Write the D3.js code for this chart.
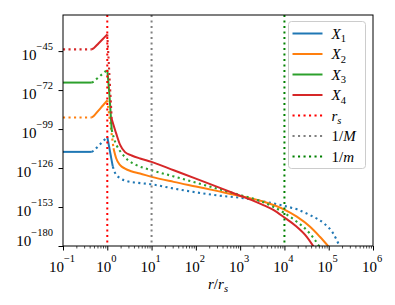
<!DOCTYPE html>
<html>
<head>
<meta charset="utf-8">
<script src="https://cdn.jsdelivr.net/npm/d3@7"></script>
<style>
body { margin: 0; background: #fff; }
text { font-family: "Liberation Serif", "DejaVu Serif", serif; fill: #000; }
</style>
</head>
<body>
<div id="chart"></div>
<script>
// points are [log10(r/r_s), log10(X)], one array per segment (styles alternate)
const X1 = [
  [[-1, -114.8], [-0.35, -114.8]],
  [[-0.35, -114.8], [-0.3, -113.8], [-0.2, -110.7], [-0.1, -107.6], [0, -104.5]],
  [[0, -104.5], [0.125, -125]],
  [[0.125, -125], [0.17, -129], [0.29, -133], [0.45, -135.1], [0.63, -136], [1, -137.3], [1.5, -140.2],
   [2, -142.8], [2.5, -145], [3, -146.6], [3.5, -149], [4, -152.3], [4.3, -154.8], [4.6, -159],
   [4.9, -164.5], [5.1, -171.2], [5.25, -180.5]]
];
const X2 = [
  [[-1, -91], [-0.35, -91]],
  [[-0.35, -91], [-0.3, -89.8], [-0.2, -86.2], [-0.1, -82.7], [0, -79.1]],
  [[0, -79.1], [0.14, -112.3]],
  [[0.14, -112.3], [0.2, -119.2], [0.29, -124], [0.4, -126.4], [0.54, -128.2], [0.74, -129.8], [1, -132.1],
   [1.5, -135.6], [2, -138.8], [2.5, -142], [3, -145.3], [3.5, -149], [4, -154.8], [4.28, -159.7],
   [4.58, -166.7], [4.8, -173.6], [5, -180.5]]
];
const X3 = [
  [[-1, -66.8], [-0.35, -66.8]],
  [[-0.35, -66.8], [-0.3, -65.9], [-0.2, -63.2], [-0.1, -60.6], [0, -57.9]],
  [[0, -57.9], [0.05, -76], [0.1, -99.5]],
  [[0.1, -99.5], [0.14, -104.4], [0.21, -110.2], [0.33, -115.9], [0.47, -120.6], [0.66, -124], [1, -127.5],
   [1.5, -131.8], [2, -136.1], [2.5, -140.4], [3, -144.7], [3.5, -149.4], [4, -157.2], [4.28, -163.2],
   [4.5, -168.9], [4.69, -175.9], [4.79, -180.5]]
];
const X4 = [
  [[-1, -43.8], [-0.35, -43.8]],
  [[-0.35, -43.8], [-0.3, -42.8], [-0.2, -39.7], [-0.1, -36.6], [0, -33.5]],
  [[0, -33.5], [0.1, -92]],
  [[0.1, -92], [0.2, -102], [0.29, -110], [0.4, -115], [0.55, -117.3], [0.74, -119.4], [1, -121.7],
   [1.5, -127.5], [2, -133.3], [2.5, -139.2], [3, -145.2], [3.5, -151.3], [3.75, -155], [4, -160.3],
   [4.25, -166], [4.5, -173.5], [4.66, -180.5]]
];
const vlines = [1, 10, 1e4];          // r_s, 1/M, 1/m
const xTicks = [-1, 0, 1, 2, 3, 4, 5, 6];
const yTicks = [-180, -153, -126, -99, -72, -45];

const curves = [X1, X2, X3, X4];
const curveColors = ["#1f77b4", "#ff7f0e", "#2ca02c", "#d62728"];
const firstSolid = [true, false, true, false];
const vColors = ["#ff0000", "#808080", "#008000"];

const W = 395, H = 305;
const pL = 63, pR = 373, pT = 15, pB = 246;
const DOT = "2.1,3.4";

const svg = d3.select("#chart").append("svg")
  .attr("width", W).attr("height", H);

const x = d3.scaleLog().domain([0.1, 1e6]).range([pL, pR]);
const y = d3.scaleLog().domain([1e-180, 1e-20]).range([pB, pT]);

svg.append("clipPath").attr("id", "clip")
  .append("rect").attr("x", pL).attr("y", pT)
  .attr("width", pR - pL).attr("height", pB - pT);

const line = d3.line()
  .x(d => x(Math.pow(10, d[0])))
  .y(d => y(Math.pow(10, d[1])))
  .curve(d3.curveMonotoneX);

const plot = svg.append("g").attr("clip-path", "url(#clip)");

curves.forEach((segs, i) => {
  segs.forEach((seg, j) => {
    const solid = (j % 2 === 0) === firstSolid[i];
    plot.append("path")
      .attr("d", line(seg))
      .attr("fill", "none")
      .attr("stroke", curveColors[i])
      .attr("stroke-width", solid ? 2 : 2.1)
      .attr("stroke-dasharray", solid ? null : DOT);
  });
});

vlines.forEach((v, i) => {
  plot.append("line")
    .attr("x1", x(v)).attr("x2", x(v))
    .attr("y1", pT).attr("y2", pB)
    .attr("stroke", vColors[i])
    .attr("stroke-width", 2)
    .attr("stroke-dasharray", DOT);
});

// axes
const xMajor = xTicks.map(t => Math.pow(10, t));
const xMinor = [];
for (let t = -1; t < 6; t++) for (let k = 2; k < 10; k++) xMinor.push(k * Math.pow(10, t));

const gx = svg.append("g").attr("transform", `translate(0,${pB})`);
gx.call(d3.axisBottom(x).tickValues(xMajor).tickSize(4.5).tickFormat(""));
gx.append("g").call(d3.axisBottom(x).tickValues(xMinor).tickSize(2.5).tickFormat(""))
  .selectAll("line").attr("stroke-width", 0.7);
gx.selectAll(".domain").remove();

const gy = svg.append("g").attr("transform", `translate(${pL},0)`);
gy.call(d3.axisLeft(y).tickValues(yTicks.map(t => Math.pow(10, t))).tickSize(4.5).tickFormat(""));
gy.selectAll(".domain").remove();

svg.append("rect")
  .attr("x", pL).attr("y", pT)
  .attr("width", pR - pL).attr("height", pB - pT)
  .attr("fill", "none").attr("stroke", "#000").attr("stroke-width", 1);

function expo(t) { return (t < 0 ? "\u2212" : "") + Math.abs(t); }

xTicks.forEach(t => {
  const tx = svg.append("text")
    .attr("x", x(Math.pow(10, t)) - 1).attr("y", 271.5)
    .attr("text-anchor", "middle").style("font-size", "15px");
  tx.append("tspan").text("10");
  tx.append("tspan").attr("dy", -10).style("font-size", "10.5px").text(expo(t));
});

yTicks.forEach(t => {
  const base = t === -180 ? 245.5 : y(Math.pow(10, t)) + 8.5;
  const ty = svg.append("text")
    .attr("x", 53).attr("y", base)
    .attr("text-anchor", "end").style("font-size", "15px");
  ty.append("tspan").text("10");
  ty.append("tspan").attr("dy", -10).style("font-size", "10.5px").text(expo(t));
});

// x label r/r_s
const xl = svg.append("text").attr("x", 218).attr("y", 289)
  .attr("text-anchor", "middle").style("font-size", "15px");
xl.append("tspan").style("font-style", "italic").text("r");
xl.append("tspan").text("/");
xl.append("tspan").style("font-style", "italic").text("r");
xl.append("tspan").attr("dy", 3).style("font-style", "italic").style("font-size", "10.5px").text("s");

// legend
const lg = svg.append("g");
lg.append("rect")
  .attr("x", 288.5).attr("y", 21.5).attr("width", 77).attr("height", 147)
  .attr("rx", 3).attr("fill", "#fff").attr("fill-opacity", 0.8)
  .attr("stroke", "#ccc").attr("stroke-width", 1);

const legendItems = [
  { color: curveColors[0], dot: false, parts: [["X", "i"], ["1", "sub"]] },
  { color: curveColors[1], dot: false, parts: [["X", "i"], ["2", "sub"]] },
  { color: curveColors[2], dot: false, parts: [["X", "i"], ["3", "sub"]] },
  { color: curveColors[3], dot: false, parts: [["X", "i"], ["4", "sub"]] },
  { color: vColors[0], dot: true, parts: [["r", "i"], ["s", "subi"]] },
  { color: vColors[1], dot: true, parts: [["1/", ""], ["M", "i"]] },
  { color: vColors[2], dot: true, parts: [["1/", ""], ["m", "i"]] }
];

legendItems.forEach((it, i) => {
  const ly = 33.5 + i * 20.5;
  lg.append("line")
    .attr("x1", 292.5).attr("x2", 322.5).attr("y1", ly).attr("y2", ly)
    .attr("stroke", it.color).attr("stroke-width", 2)
    .attr("stroke-dasharray", it.dot ? DOT : null);
  const t = lg.append("text").attr("x", 331.5).attr("y", ly + 5).style("font-size", "15px");
  it.parts.forEach(p => {
    const s = t.append("tspan").text(p[0]);
    if (p[1] === "i" || p[1] === "subi") s.style("font-style", "italic");
    if (p[1] === "sub" || p[1] === "subi") s.attr("dy", 3.5).style("font-size", "10.5px");
  });
});
</script>
</body>
</html>
